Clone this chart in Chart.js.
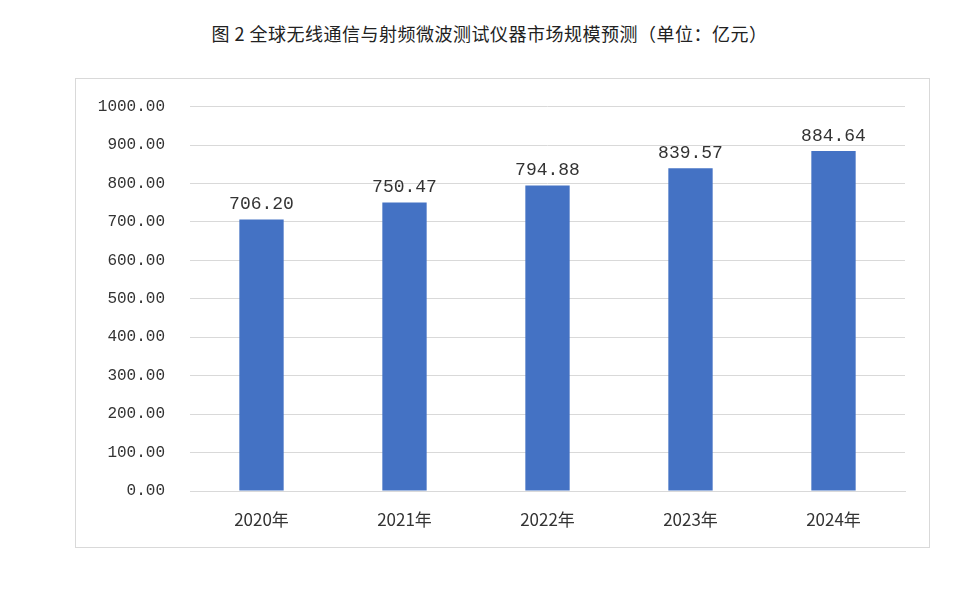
<!DOCTYPE html>
<html>
<head>
<meta charset="utf-8">
<script src="https://cdn.jsdelivr.net/npm/chart.js@4/dist/chart.umd.min.js"></script>
<style>
  body { margin: 0; background: #fff; width: 979px; height: 596px; position: relative; overflow: hidden; }
  #title { position: absolute; top: 20px; left: 0; width: 979px; text-align: center;
    font-family: "Noto Sans CJK SC", sans-serif; font-size: 18px; letter-spacing: 0.5px; color: #222; }
  #box { position: absolute; left: 75px; top: 78px; width: 855px; height: 470px;
    border: 1px solid #d9d9d9; box-sizing: border-box; }
  #wrap { position: absolute; left: 75px; top: 72px; width: 855px; height: 474px; }
</style>
</head>
<body>
<div id="title">图 2  全球无线通信与射频微波测试仪器市场规模预测（单位：亿元）</div>
<div id="box"></div>
<div id="wrap"><canvas id="chart"></canvas></div>
<script>
const years = ['2020年', '2021年', '2022年', '2023年', '2024年'];
const marketSize = [706.20, 750.47, 794.88, 839.57, 884.64];

const valueLabels = {
  id: 'valueLabels',
  afterDatasetsDraw(chart) {
    const ctx = chart.ctx;
    ctx.save();
    ctx.font = '18px "Liberation Mono", monospace';
    ctx.fillStyle = '#333';
    ctx.textAlign = 'center';
    ctx.textBaseline = 'bottom';
    chart.getDatasetMeta(0).data.forEach((bar, i) => {
      ctx.fillText(marketSize[i].toFixed(2), bar.x, bar.y - 6);
    });
    ctx.restore();
  }
};

new Chart(document.getElementById('chart'), {
  type: 'bar',
  data: {
    labels: years,
    datasets: [{ data: marketSize, backgroundColor: '#4472C4', categoryPercentage: 1, barPercentage: 0.31 }]
  },
  options: {
    responsive: true,
    maintainAspectRatio: false,
    animation: false,
    layout: { padding: { top: 18, right: 25, left: 0, bottom: 0 } },
    plugins: { legend: { display: false }, tooltip: { enabled: false } },
    scales: {
      x: {
        grid: { display: false },
        border: { color: '#d9d9d9' },
        ticks: { color: '#333', font: { family: '"Noto Sans CJK SC", sans-serif', size: 17 }, padding: 10 },
        afterFit(scale) { scale.height = 55; }
      },
      y: {
        min: 0, max: 1000,
        ticks: { stepSize: 100, color: '#333', padding: 25,
          font: { family: '"Liberation Mono", monospace', size: 16 },
          callback: v => v.toFixed(2) },
        grid: { color: '#d9d9d9', drawTicks: false },
        border: { display: false },
        afterFit(scale) { scale.width = 115; }
      }
    }
  },
  plugins: [valueLabels]
});
</script>
</body>
</html>
